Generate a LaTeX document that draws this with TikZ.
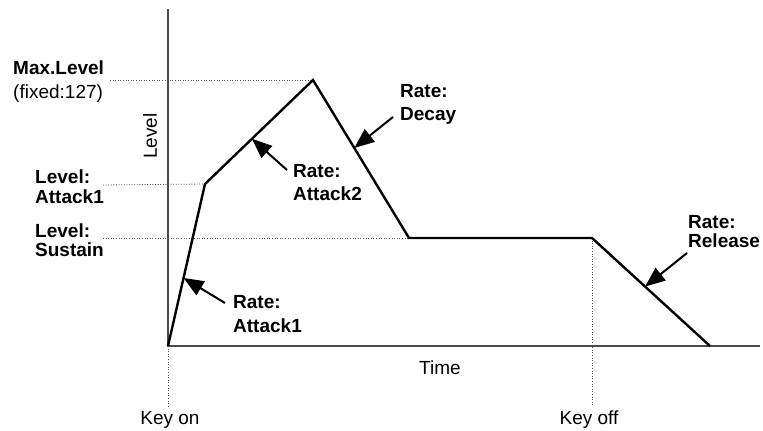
\documentclass[tikz,border=0pt]{standalone}
\usepackage{fontspec}
\setmainfont{Liberation Sans}
\usetikzlibrary{arrows.meta,calc}
\definecolor{Ink}{HTML}{000000}
\definecolor{Axis}{HTML}{4A4A4A}
\definecolor{Guide}{HTML}{555555}

\begin{document}
\begin{tikzpicture}[x=1pt,y=-1pt,
  txt/.style={inner sep=0pt,font=\fontsize{19}{22}\selectfont,text=Ink},
  bold/.style={txt,font=\fontsize{19}{22}\selectfont\bfseries},
  guide/.style={Guide,line width=0.8pt,dash pattern=on 1pt off 1.6pt},
  pointer/.style={-{Triangle[length=20pt,width=16pt]},Ink,line width=2pt}]
\useasboundingbox (0,0) rectangle (763,431);
% envelope corners
\coordinate (O) at (168,346);
\coordinate (A1) at (205,184);
\coordinate (P) at (313,80);
\coordinate (S1) at (409,238);
\coordinate (S2) at (592,238);
\coordinate (E) at (710,346);
\coordinate (ytop) at (168,9);
\coordinate (xend) at (760,346);
% guide lines
\draw[guide] (110,80) -- (P);
\draw[guide] (103,185) -- (A1);
\draw[guide] (103,238) -- (S1);
\draw[guide] (O) -- (168,406);
\draw[guide] (S2) -- (592,406);
% axes
\draw[Axis,line width=1.3pt] (ytop) -- (O) -- (xend);
% envelope
\draw[Ink,line width=2.4pt] (O) -- (A1) -- (P) -- (S1) -- (S2) -- (E);
% left labels
\node[bold,anchor=base west] (maxlvl) at (13,74) {Max.Level};
\node[txt,anchor=base west] (fixed) at (13,98) {(fixed:127)};
\node[bold,anchor=base west] (lvla) at (35,183) {Level:};
\node[bold,anchor=base west] (lvlb) at (35,203) {Attack1};
\node[bold,anchor=base west] (lvlc) at (35,237) {Level:};
\node[bold,anchor=base west] (lvld) at (35,256) {Sustain};
\node[txt,rotate=90] (ylabel) at (150,136) {Level};
% axis labels
\node[txt,anchor=base] (time) at (440,374) {Time};
\node[txt,anchor=base] (keyon) at (170,424) {Key on};
\node[txt,anchor=base] (keyoff) at (589,424) {Key off};
% rate labels
\node[bold,anchor=base west] (r1a) at (233,308) {Rate:};
\node[bold,anchor=base west] (r1b) at (233,332) {Attack1};
\node[bold,anchor=base west] (r2a) at (293,177) {Rate:};
\node[bold,anchor=base west] (r2b) at (293,200) {Attack2};
\node[bold,anchor=base west] (r3a) at (400,97) {Rate:};
\node[bold,anchor=base west] (r3b) at (400,120) {Decay};
\node[bold,anchor=base west] (r4a) at (688,228) {Rate:};
\node[bold,anchor=base west] (r4b) at (688,247) {Release};
% pointers
\coordinate (t1) at (225,303);
\coordinate (t2) at (287,170);
\coordinate (t3) at (393,117);
\coordinate (t4) at (687,253);
\draw[pointer] (t1) -- ($(O)!0.42!(A1)$);
\draw[pointer] (t2) -- ($(A1)!0.435!(P)$);
\draw[pointer] (t3) -- ($(P)!0.43!(S1)$);
\draw[pointer] (t4) -- ($(S2)!0.45!(E)$);
\end{tikzpicture}
\end{document}
